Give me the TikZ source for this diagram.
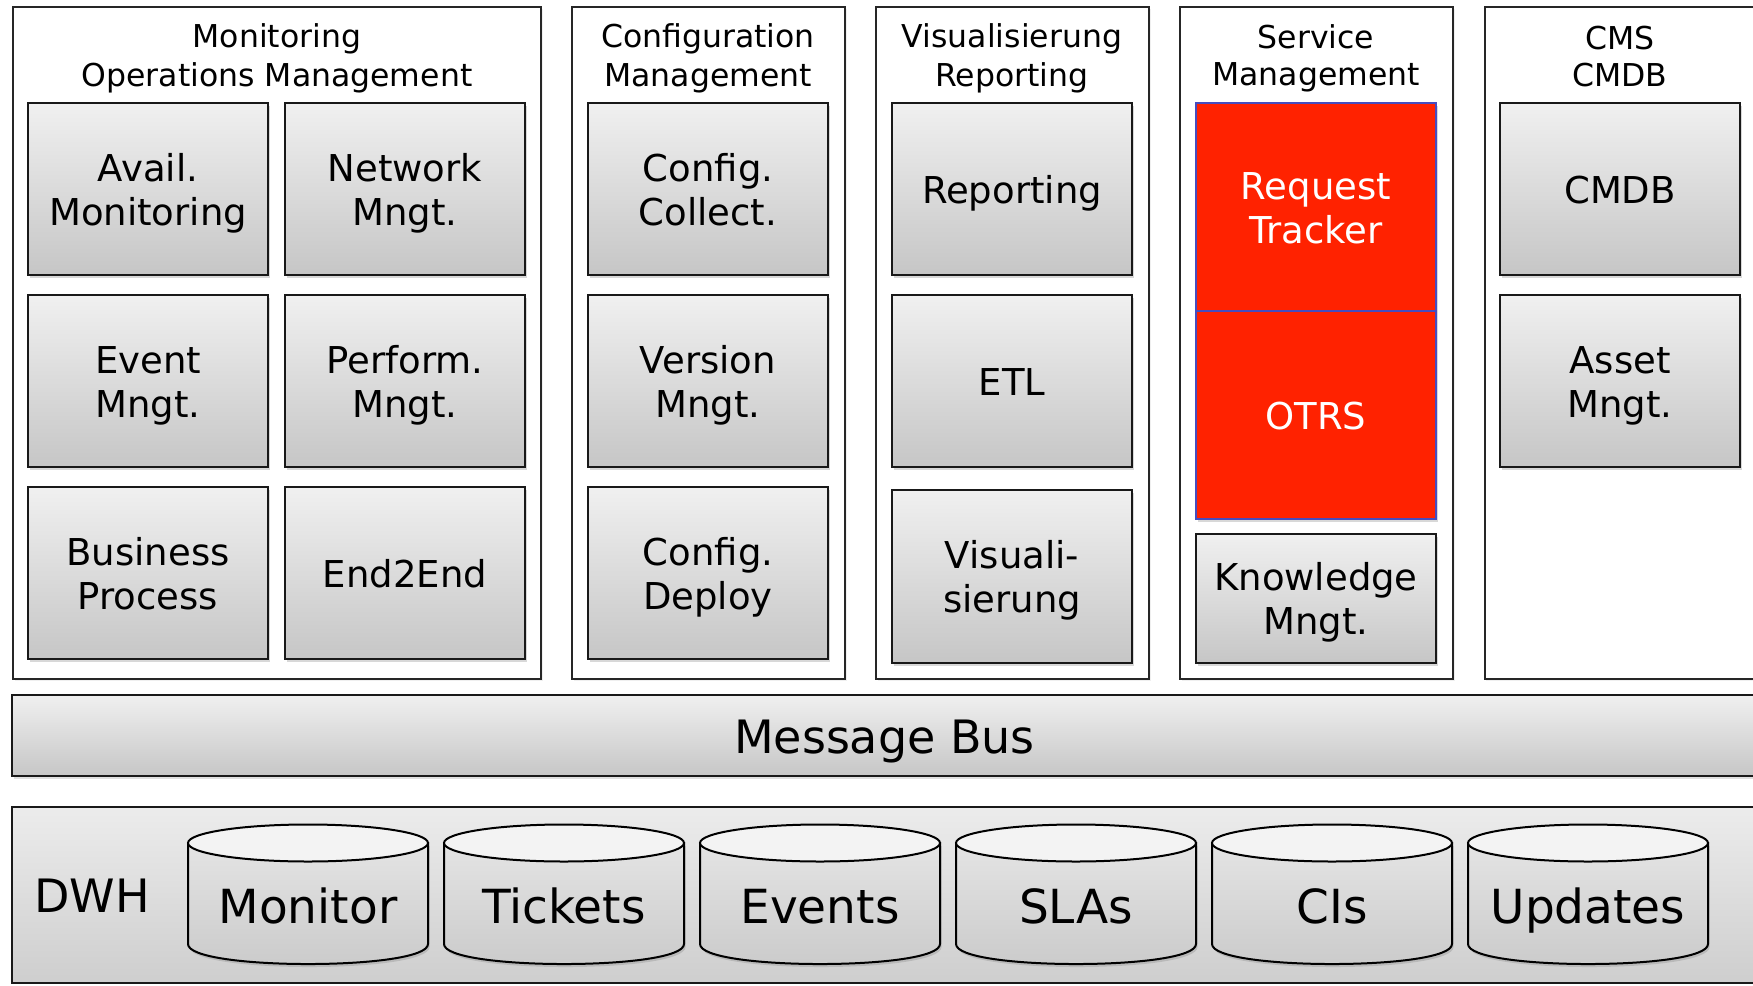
\documentclass[tikz,border=0pt]{standalone}
\usepackage{fontspec}
\setmainfont{DejaVu Sans}
\usetikzlibrary{shadows}
\definecolor{gtop}{RGB}{240,240,240}
\definecolor{gbot}{RGB}{198,198,198}
\definecolor{dtop}{RGB}{236,236,236}
\definecolor{dbot}{RGB}{206,206,206}
\definecolor{ctop}{RGB}{243,243,243}
\definecolor{cbtop}{RGB}{228,228,228}
\definecolor{cbbot}{RGB}{202,202,202}
\definecolor{rtred}{RGB}{255,34,0}
\definecolor{rtblue}{RGB}{70,76,190}
\newcommand\vstrut{\rule[-0.185em]{0pt}{1.165em}}
\newcommand\tl[2]{\vstrut#1\\#2\vstrut}
\begin{document}
\begin{tikzpicture}[x=1pt,y=-1pt,
  st/.style={execute at begin node=\vstrut, execute at end node=\vstrut},
  colbox/.style={draw=black!85, line width=2pt, fill=white, inner sep=0pt,
    drop shadow={opacity=0.12,shadow xshift=1.5pt,shadow yshift=-2.5pt}},
  coltitle/.style={align=center, inner sep=0pt, font=\fontsize{31.5}{37}\selectfont},
  modbox/.style={st, draw=black!90, line width=2.4pt, top color=gtop, bottom color=gbot,
    drop shadow={opacity=0.3,shadow xshift=1.5pt,shadow yshift=-3pt},
    minimum width=240pt, minimum height=172pt, inner sep=0pt, align=center,
    font=\fontsize{37}{44}\selectfont},
  redbox/.style={st, draw=rtblue, line width=1.3pt, fill=rtred, text=white,
    drop shadow={opacity=0.3,shadow xshift=1.5pt,shadow yshift=-3pt},
    minimum width=240pt, minimum height=208pt, inner sep=0pt, align=center,
    font=\fontsize{37}{44}\selectfont},
  barbox/.style={st, draw=black!90, line width=2.2pt, top color=gtop, bottom color=gbot,
    drop shadow={opacity=0.25,shadow xshift=1.5pt,shadow yshift=-3pt}, inner sep=0pt},
  dwhbox/.style={draw=black!90, line width=2.2pt, top color=dtop, bottom color=dbot, inner sep=0pt},
  cylbody/.style={draw=black, line width=2pt, top color=cbtop, bottom color=cbbot,
    drop shadow={opacity=0.3,shadow xshift=1.5pt,shadow yshift=-3pt}},
  cyltop/.style={draw=black, line width=2pt, fill=ctop},
  bigtext/.style={st, inner sep=0pt, font=\fontsize{47}{52}\selectfont}
]
\clip (0,0) rectangle (1753,985);
\fill[white] (0,0) rectangle (1753,985);

% columns
\node[colbox, minimum width=528pt, minimum height=672pt] (col1) at (277,342.6) {};
\node[colbox, minimum width=273pt, minimum height=672pt] (col2) at (708.5,342.6) {};
\node[colbox, minimum width=273pt, minimum height=672pt] (col3) at (1012.5,342.6) {};
\node[colbox, minimum width=273pt, minimum height=672pt] (col4) at (1316.5,342.6) {};
\node[colbox, minimum width=286pt, minimum height=672pt] (col5) at (1627.5,342.6) {};

% titles
\node[coltitle] (t1) at (277,55) {\tl{Monitoring}{Operations Management}};
\node[coltitle] (t2) at (708,55) {\tl{Configuration}{Management}};
\node[coltitle] (t3) at (1012,55) {\tl{Visualisierung}{Reporting}};
\node[coltitle] (t4) at (1316,55) {\tl{Service}{Management}};
\node[coltitle] (t5) at (1620,55) {\tl{CMS}{CMDB}};

% column 1
\node[modbox] (avail) at (148,189) {\tl{Avail.}{Monitoring}};
\node[modbox] (netw) at (405,189) {\tl{Network}{Mngt.}};
\node[modbox] (event) at (148,381) {\tl{Event}{Mngt.}};
\node[modbox] (perf) at (405,381) {\tl{Perform.}{Mngt.}};
\node[modbox] (bproc) at (148,573) {\tl{Business}{Process}};
\node[modbox] (e2e) at (405,573) {End2End};

% column 2
\node[modbox] (ccoll) at (708,189) {\tl{Config.}{Collect.}};
\node[modbox] (vers) at (708,381) {\tl{Version}{Mngt.}};
\node[modbox] (cdep) at (708,573) {\tl{Config.}{Deploy}};

% column 3
\node[modbox] (rep) at (1012,189) {Reporting};
\node[modbox] (etl) at (1012,381) {ETL};
\node[modbox, minimum height=173pt] (visu) at (1012,576.5) {\tl{Visuali-}{sierung}};

% column 4
\node[redbox] (rt) at (1316,207) {\tl{Request}{Tracker}};
\node[redbox] (otrs) at (1316,415) {OTRS};
\node[modbox, minimum height=129pt] (know) at (1316,598.5) {\tl{Knowledge}{Mngt.}};

% column 5
\node[modbox] (cmdb) at (1620,189) {CMDB};
\node[modbox] (asset) at (1620,381) {\tl{Asset}{Mngt.}};

% message bus
\node[barbox, minimum width=1745pt, minimum height=81pt, font=\fontsize{46}{50}\selectfont] (bus) at (884.5,735.5) {Message Bus};

% DWH
\node[dwhbox, minimum width=1745pt, minimum height=176pt] (dwh) at (884.5,895) {};
\node[bigtext, font=\fontsize{46}{50}\selectfont] (dwhlabel) at (92,894) {DWH};

\foreach \cx/\nm/\lbl in {308/cmon/Monitor, 564/ctick/Tickets, 820/cevt/Events, 1076/csla/SLAs, 1332/ccis/CIs, 1588/cupd/Updates}{
  \path[cylbody] (\cx-120,843) -- (\cx-120,944)
     .. controls (\cx-120,970.7) and (\cx+120,970.7) .. (\cx+120,944)
     -- (\cx+120,843) -- cycle;
  \path[cyltop] (\cx,843) ellipse [x radius=120, y radius=18.5];
  \node[bigtext] (\nm) at (\cx,905) {\lbl};
}
\end{tikzpicture}
\end{document}
